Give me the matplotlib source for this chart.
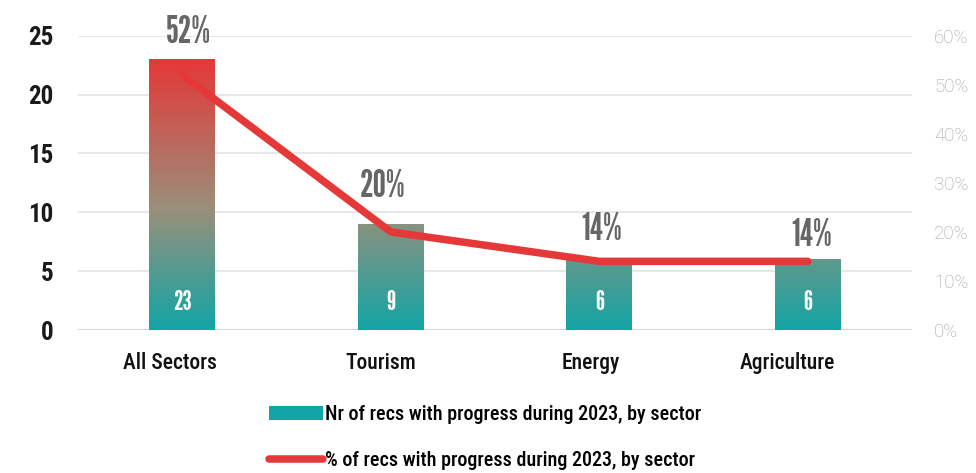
import matplotlib
matplotlib.use("Agg")
import matplotlib.pyplot as plt
import numpy as np
from matplotlib.colors import LinearSegmentedColormap
from matplotlib.patches import Patch
from matplotlib.lines import Line2D
from matplotlib.transforms import ScaledTranslation

categories = ["All Sectors", "Tourism", "Energy", "Agriculture"]
counts = [23, 9, 6, 6]
pcts = [0.52, 0.20, 0.14, 0.14]
left_ticks = [0, 5, 10, 15, 20, 25]
right_ticks = [0, 0.1, 0.2, 0.3, 0.4, 0.5, 0.6]
legend_labels = ["Nr of recs with progress during 2023, by sector",
                 "% of recs with progress during 2023, by sector"]

NARROW = ["Roboto Condensed", "DejaVu Sans"]
GOTHIC = ["League Gothic", "Oswald", "DejaVu Sans"]
LIGHT = ["Roboto", "DejaVu Sans"]
plt.rcParams['font.family'] = NARROW

TEAL = "#12A5A5"
RED = "#E53838"

fig = plt.figure(figsize=(9.76, 4.73), dpi=100)
ax = fig.add_axes([0.080, 0.3023, 0.8545, 0.6222])
ax2 = ax.twinx()
ax.set_zorder(1)
ax2.set_zorder(2)
ax.patch.set_visible(False)

x = np.arange(len(categories))
bw = 0.315
bars = ax.bar(x, counts, width=bw, color="none", edgecolor="none", zorder=3)

cmap = LinearSegmentedColormap.from_list(
    "tr", [(0.0, TEAL), (0.45, "#9A8F7A"), (1.0, RED)])
grad = np.linspace(0, 1, 256).reshape(-1, 1)
vmax = max(counts)
for b in bars:
    im = ax.imshow(grad, cmap=cmap, aspect="auto", origin="lower",
                   extent=[b.get_x(), b.get_x() + b.get_width(), 0, vmax],
                   zorder=3)
    im.set_clip_path(b)

for xi, c in zip(x, counts):
    ax.text(xi, 2.3, str(c), ha="center", va="center", color="white",
            fontsize=19, family=GOTHIC, zorder=5)

ax.set_xlim(-0.5, 3.5)
ax.set_ylim(0, 25)
ax.set_yticks(left_ticks)
ax.grid(axis="y", color="#E3E3E3", linewidth=1.2, zorder=0)
ax.set_axisbelow(True)
for s in ax.spines.values():
    s.set_visible(False)
ax.axhline(0, color="#D8D8D8", linewidth=2.2, zorder=2)
ax.tick_params(axis="y", length=0, pad=18, labelsize=18, labelcolor="#1a1a1a")
for lbl in ax.get_yticklabels():
    lbl.set_fontweight("bold")
ax.set_xticks(x)
ax.set_xticklabels(categories, fontsize=15.5, color="#111111", fontweight="medium")
ax.tick_params(axis="x", length=0, pad=16)
label_shift_px = [-12, -10, -9, -20]
for lbl, sh in zip(ax.get_xticklabels(), label_shift_px):
    lbl.set_transform(lbl.get_transform() + ScaledTranslation(sh / 100, 0, fig.dpi_scale_trans))

ax2.plot(x, pcts, color=RED, linewidth=5.4, solid_capstyle="round",
         solid_joinstyle="miter", zorder=4)
ax2.set_ylim(0, 0.6)
ax2.set_yticks(right_ticks)
ax2.set_yticklabels([f"{int(round(t*100))}%" for t in right_ticks],
                    fontfamily=LIGHT, fontweight="light")
ax2.tick_params(axis="y", length=0, pad=16, labelsize=13.5, labelcolor="#A2A2A2")
for s in ax2.spines.values():
    s.set_visible(False)

label_dx = [0.03, -0.04, 0.01, 0.02]
label_dy = [2.25, 3.2, 2.5, 2.0]
for xi, c, p, dx, dy in zip(x, counts, pcts, label_dx, label_dy):
    ax.text(xi + dx, c + dy, f"{int(round(p*100))}%", ha="center", va="center",
            color="#666666", fontsize=27, family=GOTHIC, zorder=6)

handles = [Patch(facecolor=TEAL, edgecolor="none"),
           Line2D([0], [0], color=RED, linewidth=5.4, solid_capstyle="round")]
fig.legend(handles, legend_labels, loc="center", bbox_to_anchor=(0.497, 0.075),
           ncol=1, frameon=False, prop={"size": 14.5, "weight": "medium"},
           handlelength=2.7, handleheight=0.7, handletextpad=0.1, labelspacing=1.3)

fig.savefig("out.png", dpi=100)
